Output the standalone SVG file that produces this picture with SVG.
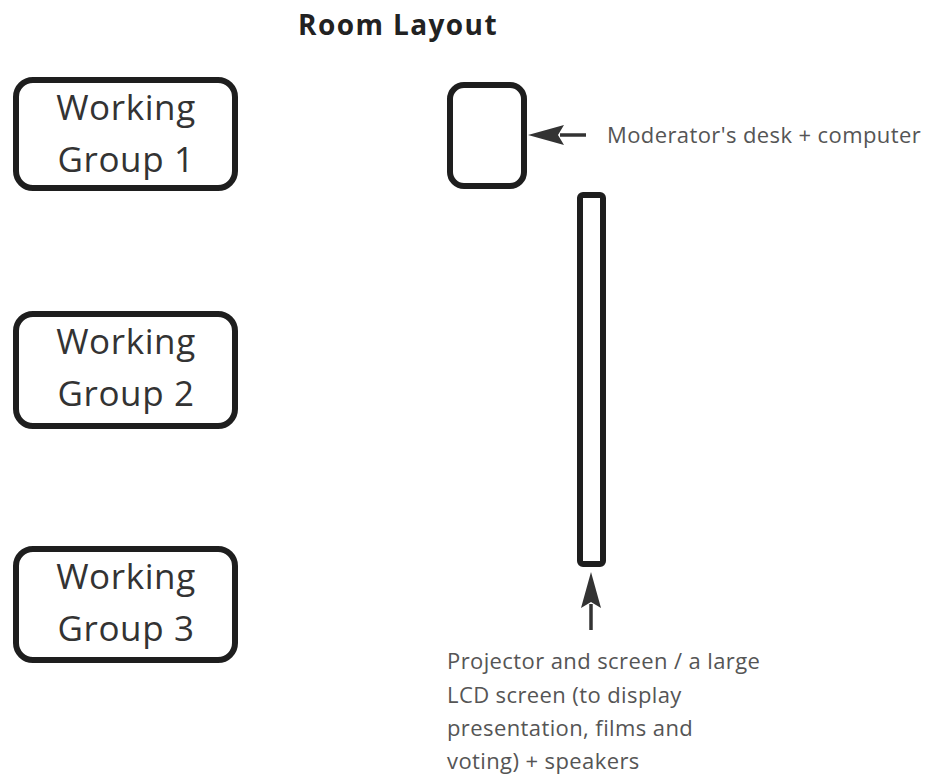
<svg xmlns="http://www.w3.org/2000/svg" width="928" height="774" viewBox="0 0 928 774">
  <style>
    .box { fill: #ffffff; stroke: #1e1e1e; stroke-width: 6; }
    .big { font-family: "Open Sans", "Noto Sans", sans-serif; font-size: 35px; letter-spacing: 0.6px; fill: #333333; text-anchor: middle; }
    .note { font-family: "Open Sans", "Noto Sans", sans-serif; font-size: 22px; letter-spacing: 0.4px; fill: #555555; }
    .title { font-family: "Open Sans", "Noto Sans", sans-serif; font-size: 28px; letter-spacing: 1.4px; font-weight: bold; fill: #222222; text-anchor: middle; }
    .conn { stroke: #333333; stroke-width: 3.5; fill: none; }
  </style>
  <defs>
    <marker id="arrow" viewBox="0 0 36 20" refX="4" refY="10" markerWidth="36" markerHeight="20" markerUnits="userSpaceOnUse" orient="auto">
      <path d="M0,0 L36,10 L0,20 L6,10 Z" fill="#333333"/>
    </marker>
  </defs>
  <rect width="928" height="774" fill="#ffffff"/>

  <text class="title" x="398" y="35">Room Layout</text>

  <g id="wg1">
    <rect class="box" x="16" y="80" width="219" height="108" rx="17"/>
    <text class="big" x="126" y="120">Working</text>
    <text class="big" x="126" y="172">Group 1</text>
  </g>
  <g id="wg2">
    <rect class="box" x="16" y="314" width="219" height="112" rx="17"/>
    <text class="big" x="126" y="354">Working</text>
    <text class="big" x="126" y="406">Group 2</text>
  </g>
  <g id="wg3">
    <rect class="box" x="16" y="549" width="219" height="111" rx="17"/>
    <text class="big" x="126" y="589">Working</text>
    <text class="big" x="126" y="641">Group 3</text>
  </g>

  <g id="desk">
    <rect class="box" x="450" y="85" width="74" height="101" rx="14"/>
  </g>
  <g id="screen">
    <rect class="box" x="580" y="195" width="23" height="369" rx="3"/>
  </g>

  <g id="connectors">
    <line class="conn" x1="586" y1="135" x2="560" y2="135" marker-end="url(#arrow)"/>
    <line class="conn" x1="591" y1="630" x2="591" y2="604" marker-end="url(#arrow)"/>
  </g>

  <g id="labels">
    <text class="note" x="607" y="143">Moderator's desk + computer</text>
    <text class="note" x="447" y="669">Projector and screen / a large</text>
    <text class="note" x="447" y="703">LCD screen (to display</text>
    <text class="note" x="447" y="736">presentation, films and</text>
    <text class="note" x="447" y="769">voting) + speakers</text>
  </g>
</svg>
